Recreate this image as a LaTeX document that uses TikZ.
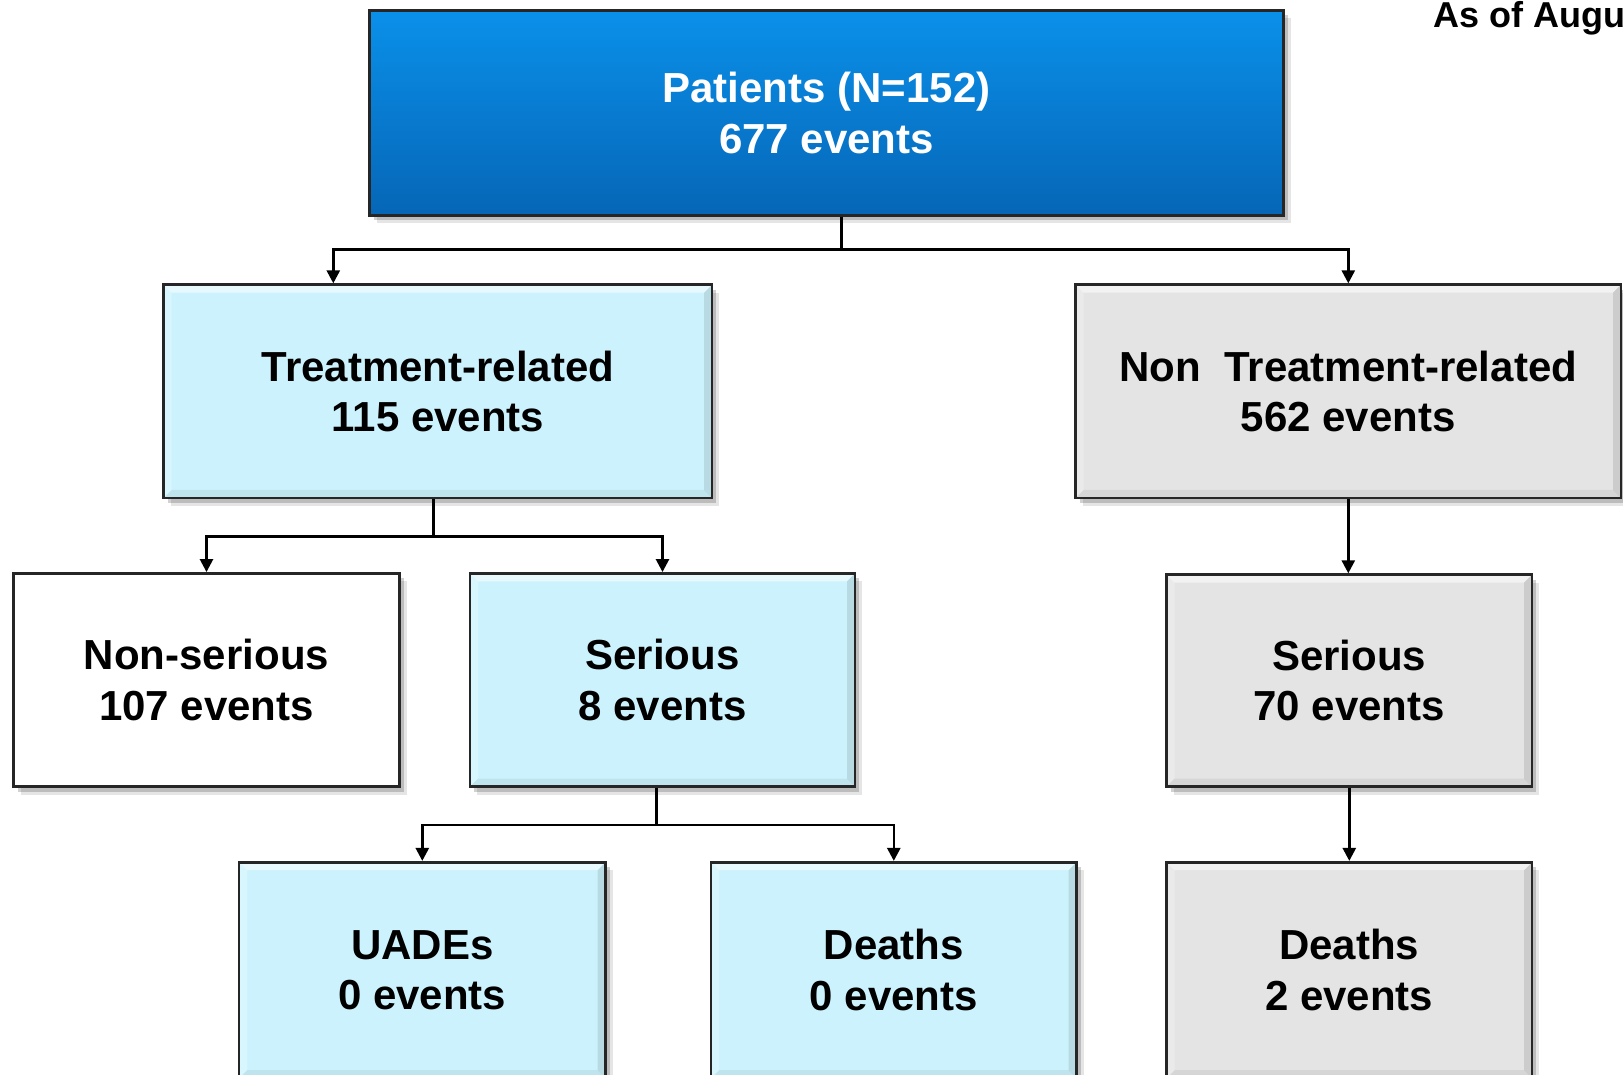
\documentclass[tikz,border=0pt]{standalone}
\usepackage{fontspec}
\setmainfont{Liberation Sans}
\usetikzlibrary{shadows,arrows.meta,calc}
\definecolor{cyanfill}{RGB}{204,243,253}
\definecolor{grayfill}{RGB}{228,228,228}
\definecolor{edgecol}{RGB}{38,38,38}
\definecolor{bluetop}{RGB}{10,144,234}
\definecolor{bluebot}{RGB}{6,102,182}
\begin{document}
\begin{tikzpicture}[x=1pt,y=-1pt,
  box/.style={draw=edgecol, line width=2.6pt, inner sep=0pt, align=center,
    font=\fontsize{42}{50.5}\selectfont\bfseries,
    drop shadow={shadow xshift=7pt,shadow yshift=-8pt,opacity=0.10,fill=black},
    drop shadow={shadow xshift=4pt,shadow yshift=-5pt,opacity=0.18,fill=black}},
  bevel/.style={path picture={
    \fill[white,opacity=0.55] (path picture bounding box.north west) -- (path picture bounding box.north east)
      -- ([xshift=-8pt,yshift=-8pt]path picture bounding box.north east) -- ([xshift=8pt,yshift=-8pt]path picture bounding box.north west) -- cycle;
    \fill[white,opacity=0.25] (path picture bounding box.north west) -- (path picture bounding box.south west)
      -- ([xshift=8pt,yshift=8pt]path picture bounding box.south west) -- ([xshift=8pt,yshift=-8pt]path picture bounding box.north west) -- cycle;
    \fill[black,opacity=0.10] (path picture bounding box.north east) -- (path picture bounding box.south east)
      -- ([xshift=-8pt,yshift=8pt]path picture bounding box.south east) -- ([xshift=-8pt,yshift=-8pt]path picture bounding box.north east) -- cycle;
    \fill[black,opacity=0.06] (path picture bounding box.south west) -- (path picture bounding box.south east)
      -- ([xshift=-8pt,yshift=8pt]path picture bounding box.south east) -- ([xshift=8pt,yshift=8pt]path picture bounding box.south west) -- cycle;
  }},
  bluebox/.style={box, top color=bluetop, bottom color=bluebot, text=white, draw=black!85},
  cyanbox/.style={box, fill=cyanfill, bevel},
  graybox/.style={box, fill=grayfill, bevel},
  whitebox/.style={box, fill=white},
  conn/.style={line width=2.6pt, draw=black},
  arr/.style={conn, -{Triangle[length=13pt,width=13pt]}},
  note/.style={font=\fontsize{36}{40}\selectfont\bfseries, inner sep=0pt}
]
\useasboundingbox (0,0) rectangle (1623,1074);
\clip (0,0) rectangle (1623,1074);

% boxes
\node[bluebox, minimum width=914pt, minimum height=205pt] (top) at (826.5,112.9) {Patients (N=152)\\677 events};
\node[cyanbox, minimum width=548.5pt, minimum height=213.3pt] (tr) at (437.9,391.3) {Treatment-related\\115 events};
\node[graybox, minimum width=545.5pt, minimum height=213.3pt] (ntr) at (1348.3,391.3) {Non\ \ Treatment-related\\562 events};
\node[whitebox, minimum width=386pt, minimum height=213.3pt] (ns) at (206.5,680) {Non-serious\\107 events};
\node[cyanbox, minimum width=385pt, minimum height=213.3pt] (s1) at (662.5,680) {Serious\\8 events};
\node[graybox, minimum width=365.5pt, minimum height=212pt] (s2) at (1349.3,680.6) {Serious\\70 events};
\node[cyanbox, minimum width=366.5pt, minimum height=216pt] (ua) at (422.3,970.2) {UADEs\\0 events};
\node[cyanbox, minimum width=365.5pt, minimum height=216pt] (d1) at (893.8,970.2) {Deaths\\0 events};
\node[graybox, minimum width=365.5pt, minimum height=216pt] (d2) at (1349.3,970.2) {Deaths\\2 events};

\node[note, anchor=base west] (asof) at (1433,27) {As of Augu};

% connectors
\coordinate (j0) at (841.5,249.5);
\coordinate (trin) at (333.3,249.5);
\draw[conn] (top.south -| j0) -- (j0);
\draw[arr] (j0) -| (trin |- tr.north);
\draw[arr] (j0) -| (ntr.north);

\coordinate (j1) at (433.7,536.2);
\draw[conn] (tr.south -| j1) -- (j1);
\draw[arr] (j1) -| (ns.north);
\draw[arr] (j1) -| (s1.north);

\draw[arr] (ntr.south) -- (ntr.south |- s2.north);

\coordinate (j2) at (656.3,825);
\draw[conn] (s1.south -| j2) -- (j2);
\draw[arr] (j2) -| (ua.north);
\draw[arr] (j2) -| (d1.north);

\draw[arr] (s2.south) -- (s2.south |- d2.north);
\end{tikzpicture}
\end{document}
